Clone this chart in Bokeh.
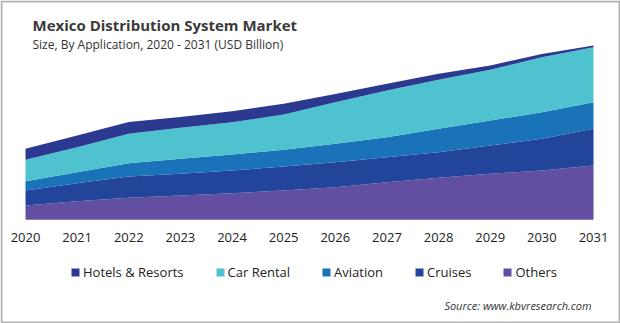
from bokeh.plotting import figure
from bokeh.models import Label, Legend, LegendItem, BoxAnnotation, FixedTicker, Range1d
from bokeh.embed import file_html
from bokeh.resources import INLINE

years = [2020, 2021, 2022, 2023, 2024, 2025, 2026, 2027, 2028, 2029, 2030, 2031]
others = [0.143, 0.186, 0.220, 0.243, 0.266, 0.293, 0.326, 0.376, 0.420, 0.460, 0.493, 0.543]
cruises = [0.150, 0.180, 0.213, 0.217, 0.227, 0.240, 0.250, 0.250, 0.256, 0.283, 0.317, 0.367]
aviation = [0.093, 0.110, 0.133, 0.150, 0.160, 0.167, 0.184, 0.200, 0.234, 0.250, 0.266, 0.266]
car_rental = [0.214, 0.250, 0.294, 0.310, 0.323, 0.353, 0.416, 0.467, 0.490, 0.507, 0.550, 0.550]
hotels = [0.110, 0.117, 0.117, 0.107, 0.110, 0.107, 0.083, 0.067, 0.060, 0.043, 0.033, 0.017]

series_names = ["Others", "Cruises", "Aviation", "Car Rental", "Hotels & Resorts"]
series_values = [others, cruises, aviation, car_rental, hotels]
colors = ["#634FA2", "#22449B", "#1A72B9", "#4EC3CF", "#2B3990"]
legend_order = ["Hotels & Resorts", "Car Rental", "Aviation", "Cruises", "Others"]

data = {"year": years}
for n, v in zip(series_names, series_values):
    data[n] = v

p = figure(width=620, height=323, output_backend="svg", toolbar_location=None,
           x_range=Range1d(2019.516, 2031.523), y_range=Range1d(-1.037, 2.193),
           min_border_left=0, min_border_right=0, min_border_top=0, min_border_bottom=0)
p.outline_line_color = None
p.grid.visible = False
p.yaxis.visible = False
p.background_fill_color = "white"
p.border_fill_color = "white"

rs = p.varea_stack(stackers=series_names, x="year", color=colors, source=data)

ax = p.xaxis[0]
ax.fixed_location = 0
ax.ticker = FixedTicker(ticks=years)
ax.axis_line_color = None
ax.major_tick_line_color = None
ax.minor_tick_line_color = None
ax.major_tick_out = 0
ax.major_tick_in = 0
ax.major_label_standoff = 13
ax.major_label_text_font = "Open Sans"
ax.major_label_text_font_size = "13px"
ax.major_label_text_color = "#222222"

rmap = dict(zip(series_names, rs))
items = [LegendItem(label=n, renderers=[rmap[n]]) for n in legend_order]
legend = Legend(items=items, orientation="horizontal", location=(70, 42),
                glyph_width=10, glyph_height=10, label_standoff=3, spacing=31,
                padding=0, margin=0, border_line_alpha=0, background_fill_alpha=0,
                label_text_font="Open Sans", label_text_font_size="13px",
                label_text_color="#222222")
p.add_layout(legend)

p.add_layout(Label(x=32, y=288.7, x_units="screen", y_units="screen",
                   text="Mexico Distribution  System Market", text_font="Open Sans",
                   text_font_style="bold", text_font_size="15px", text_color="#3a3a3a"))
p.add_layout(Label(x=32, y=270.3, x_units="screen", y_units="screen",
                   text="Size, By Application, 2020 - 2031 (USD Billion)", text_font="Open Sans",
                   text_font_size="12px", text_color="#333333"))
p.add_layout(Label(x=591, y=11, x_units="screen", y_units="screen",
                   text="Source: www.kbvresearch.com", text_font="Open Sans",
                   text_font_style="italic", text_font_size="11px", text_color="#333333",
                   text_align="right"))
p.add_layout(BoxAnnotation(left=1, right=619, bottom=1, top=322,
                           left_units="screen", right_units="screen",
                           bottom_units="screen", top_units="screen",
                           fill_alpha=0, line_color="black", line_width=2))

open("out.html", "w").write(file_html(p, INLINE))
